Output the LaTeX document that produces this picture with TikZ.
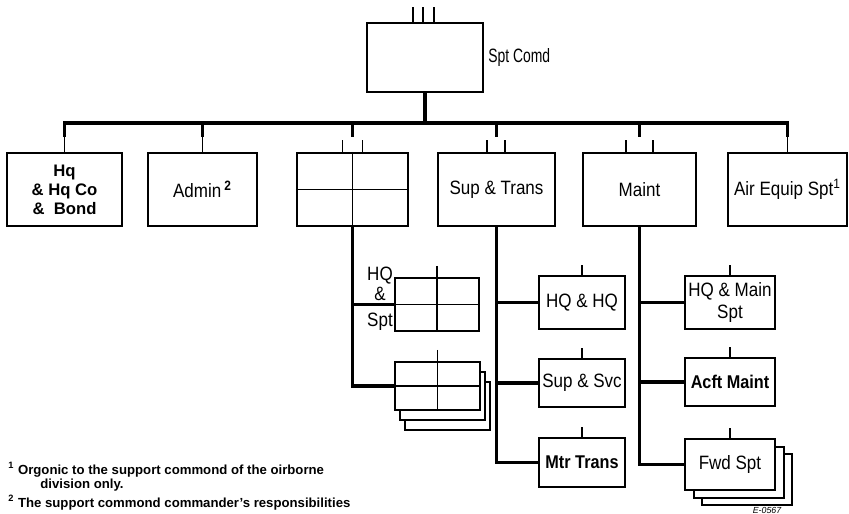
\documentclass[tikz,border=0pt]{standalone}
\usepackage{fontspec}
\setmainfont{Liberation Sans}
\newfontfamily\lblfont[FakeStretch=0.88]{Liberation Sans}
\newfontfamily\narrowfont[FakeStretch=0.72]{Liberation Sans}
\usetikzlibrary{calc}
\tikzset{
	boxstyle/.style={rectangle,draw=black,fill=white,line width=1.2pt,inner sep=1pt,align=center,font=\lblfont\fontsize{11}{12.5}\selectfont},
	rowstyle/.style={boxstyle,minimum height=1.46cm},
	gridstyle/.style={rectangle,draw=black,fill=white,line width=1.2pt,inner sep=0pt},
	labelstyle/.style={inner sep=0pt,align=center,font=\lblfont\fontsize{11}{11}\selectfont},
	busstyle/.style={line width=2.2pt},
	linkstyle/.style={line width=1.8pt},
	tickstyle/.style={line width=1.1pt},
	notestyle/.style={inner sep=0pt,font=\bfseries\fontsize{7.5}{9}\selectfont}
}
\begin{document}
\begin{tikzpicture}[x=0.02cm,y=-0.02cm]
		\useasboundingbox (0,0) rectangle (849,514);
		\coordinate (busrow) at (0,123);
		\coordinate (droprow) at (0,137);
		\node[boxstyle,minimum width=2.32cm,minimum height=1.38cm] (cmd) at (425,57.5) {};
		\node[anchor=west,inner sep=0pt,font=\narrowfont\fontsize{11}{12}\selectfont] (cmdlbl) at (488,58) {Spt Comd};
		\node[rowstyle,minimum width=2.3cm,font=\bfseries\fontsize{9.5}{10.8}\selectfont] (hq) at (64.5,189.5) {Hq\\\& Hq Co\\\&\ \ Bond};
		\node[rowstyle,minimum width=2.18cm] (admin) at (202.5,189.5) {Admin\,\textsuperscript{\bfseries 2}};
		\node[gridstyle,minimum width=2.22cm,minimum height=1.46cm] (grid) at (352.5,189.5) {};
		\node[rowstyle,minimum width=2.34cm] (suptr) at (496.5,189.5) {Sup \& Trans};
		\node[rowstyle,minimum width=2.26cm] (maint) at (639.5,189.5) {Maint};
		\node[rowstyle,minimum width=2.38cm] (air) at (787.5,189.5) {Air Equip Spt\textsuperscript{1}};
		\node[gridstyle,minimum width=1.68cm,minimum height=1.06cm] (hqspt) at (437,304.5) {};
		\node[labelstyle] (hqsptlbl) at (380,299) {HQ\\\&\\[4pt]Spt};
		\node[gridstyle,minimum width=1.7cm,minimum height=0.96cm] (grid2c) at (447.5,406) {};
		\node[gridstyle,minimum width=1.7cm,minimum height=0.96cm] (grid2b) at (442.5,396) {};
		\node[gridstyle,minimum width=1.7cm,minimum height=0.96cm] (grid2) at (437.5,386) {};
		\node[boxstyle,minimum width=1.72cm,minimum height=1.06cm] (hqhq) at (582,302.5) {HQ \& HQ};
		\node[boxstyle,minimum width=1.72cm,minimum height=0.96cm] (supsvc) at (582,383) {Sup \& Svc};
		\node[boxstyle,minimum width=1.72cm,minimum height=0.98cm,font=\lblfont\bfseries\fontsize{10.5}{12.5}\selectfont] (mtr) at (582,462.5) {Mtr Trans};
		\node[boxstyle,minimum width=1.8cm,minimum height=1.06cm] (hqmain) at (730,302.5) {HQ \& Main\\Spt};
		\node[boxstyle,minimum width=1.8cm,minimum height=0.96cm,font=\lblfont\bfseries\fontsize{10.5}{12.5}\selectfont] (acft) at (730,382) {Acft Maint};
		\node[boxstyle,minimum width=1.8cm,minimum height=1.02cm] (fwdc) at (747,479.5) {};
		\node[boxstyle,minimum width=1.8cm,minimum height=1.02cm] (fwdb) at (739,472.5) {};
		\node[boxstyle,minimum width=1.8cm,minimum height=1.02cm] (fwd) at (730,464.5) {Fwd Spt};
		\foreach \dx in {-12,-2,9}
			\draw[tickstyle] ([xshift=\dx*0.02cm]cmd.north) -- ++(0,-15);
		\draw[busstyle] (cmd.south) -- (cmd.south |- busrow);
		\draw[busstyle] (hq.north |- droprow) -- (hq.north |- busrow) -- (air.north |- busrow) -- (air.north |- droprow);
		\foreach \n in {admin,grid,suptr,maint}
			\draw[busstyle] (\n.north |- busrow) -- (\n.north |- droprow);
		\foreach \n in {hq,admin,air}
			\draw[tickstyle] (\n.north |- droprow) -- (\n.north);
		\draw[tickstyle] ([xshift=-0.2cm]grid.north) -- ++(0,-12);
		\draw[tickstyle] ([xshift=0.2cm]grid.north) -- ++(0,-12);
		\draw[tickstyle] ([xshift=-0.19cm]suptr.north) -- ++(0,-12);
		\draw[tickstyle] ([xshift=0.17cm]suptr.north) -- ++(0,-12);
		\draw[tickstyle] ([xshift=-0.27cm]maint.north) -- ++(0,-12);
		\draw[tickstyle] ([xshift=0.27cm]maint.north) -- ++(0,-12);
		\draw[tickstyle] (grid.north) -- (grid.south);
		\draw[tickstyle] (grid.west) -- (grid.east);
		\draw[linkstyle] (grid.south) |- (hqspt.west);
		\draw[linkstyle] (grid.south) |- (grid2.west);
		\draw[tickstyle] (hqspt.north) ++(0,-11) -- (hqspt.south);
		\draw[tickstyle] (hqspt.west) -- (hqspt.east);
		\draw[tickstyle] (grid2.north) ++(0,-11) -- (grid2.south);
		\draw[tickstyle] (grid2.west) -- (grid2.east);
		\draw[linkstyle] (suptr.south) |- (hqhq.west);
		\draw[linkstyle] (suptr.south) |- (supsvc.west);
		\draw[linkstyle] (suptr.south) |- (mtr.west);
		\draw[linkstyle] (maint.south) |- (hqmain.west);
		\draw[linkstyle] (maint.south) |- (acft.west);
		\draw[linkstyle] (maint.south) |- (fwd.west);
		\foreach \n in {hqhq,supsvc,mtr,hqmain,acft,fwd}
			\draw[tickstyle] (\n.north) -- ++(0,-10);
		\node[notestyle,anchor=base west] (note1) at (8,474) {\textsuperscript{1} Orgonic to the support commond of the oirborne};
		\node[notestyle,anchor=base west] (note1b) at (40,488) {division only.};
		\node[notestyle,anchor=base west] (note2) at (8,507) {\textsuperscript{2} The support commond commander's responsibilities};
		\node[inner sep=0pt,font=\itshape\fontsize{5}{6}\selectfont] (figno) at (767,510) {E-0567};
		\end{tikzpicture}
\end{document}
